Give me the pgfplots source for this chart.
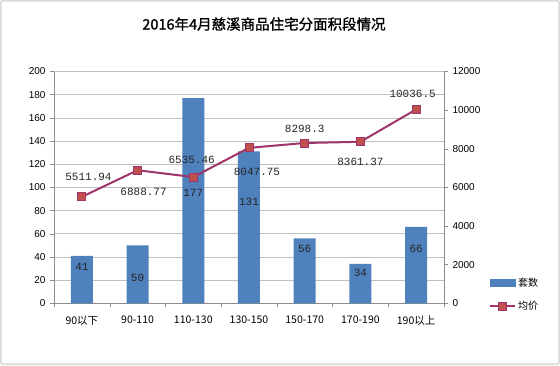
\documentclass[border=0pt]{standalone}
\usepackage{pgfplots}
\pgfplotsset{compat=1.18}
\usepackage{pgfplotstable}
\usepackage{fontspec}
\setmainfont{Liberation Sans}
\newfontfamily\cjk{Noto Sans CJK SC}
\newfontfamily\cjktitle[FakeBold=1.2]{Noto Sans CJK SC}
\newfontfamily\lblfont{Liberation Mono}
\definecolor{barblue}{HTML}{4F81BD}
\definecolor{linepurple}{HTML}{9E3469}
\definecolor{markred}{HTML}{C0504D}
\definecolor{gridgray}{HTML}{C0C0C0}
\definecolor{axisgray}{HTML}{8C8C8C}

\pgfplotsset{
  barlegend/.style={legend image code/.code={\fill[barblue] (0pt,-3.5pt) rectangle (25pt,3.5pt);}},
  linelegend/.style={legend image code/.code={%
     \draw[linepurple, line width=2pt] (0pt,0pt) -- (25pt,0pt);
     \draw[fill=markred, draw=linepurple, line width=0.8pt] (8.5pt,-4pt) rectangle (16.5pt,4pt);}},
}

% bars: x, count, label, shift of label centre below bar top
\pgfplotstableread{
x y lab dy
0 41 41 11
1 50 50 32.3
2 177 177 95
3 131 131 50.2
4 56 56 10.9
5 34 34 9.3
6 66 66 21.6
}\bars

% average price: x, value, label, label shifts
\pgfplotstableread{
x y lab dx dy
0 5511.94 5511.94 6.6 20
1 6888.77 6888.77 6 -21.7
2 6535.46 6535.46 -1.6 17
3 8047.75 8047.75 8 -24
4 8298.3 8298.3 0 14
5 8361.37 8361.37 0 -20
6 10036.5 10036.5 -3.5 16
}\price

\begin{document}
\begin{tikzpicture}[x=1pt,y=1pt]
\useasboundingbox (0,0) rectangle (560,365);
\fill[white] (0,0) rectangle (560,365);
\draw[gray!30, line width=1.6pt, rounded corners=2pt] (0.8,0.8) rectangle (559.2,364.2);
\node[font=\cjktitle\fontsize{14.5}{16}\selectfont] at (264,341) {2016年4月慈溪商品住宅分面积段情况};

\begin{axis}[
  at={(54pt,61.7pt)}, anchor=south west,
  scale only axis, width=390pt, height=231.8pt,
  xmin=-0.5, xmax=6.5, ymin=0, ymax=200,
  ytick={0,20,...,200},
  axis x line*=bottom, axis y line*=left,
  axis line style={axisgray},
  ymajorgrids, grid style={gridgray, line width=0.6pt},
  xtick={0,...,6},
  xticklabels={90以下,90-110,110-130,130-150,150-170,170-190,190以上},
  minor xtick={-0.5,0.5,...,6.5},
  tick align=outside,
  major x tick style={draw=none},
  every tick/.style={axisgray},
  minor tick length=4pt, major tick length=4pt,
  x tick label style={font=\cjk\fontsize{10.5}{12}\selectfont, yshift=-5pt},
  y tick label style={font=\fontsize{10}{12}\selectfont, xshift=-1pt},
  /pgf/number format/assume math mode=true,
  clip=false,
]
\addplot[ybar, bar width=22pt, fill=barblue, draw=none,
  nodes near coords, point meta=explicit symbolic,
  visualization depends on={\thisrow{dy} \as \labdy},
  every node near coord/.append style={anchor=center, yshift=-\labdy pt,
     font=\lblfont\fontsize{11}{12}\selectfont, text=black!85}]
  table[x=x, y=y, meta=lab] {\bars};
\end{axis}

\begin{axis}[
  at={(54pt,61.7pt)}, anchor=south west,
  scale only axis, width=390pt, height=231.8pt,
  xmin=-0.5, xmax=6.5, ymin=0, ymax=12000,
  ytick={0,2000,...,12000},
  axis y line*=right, axis x line=none,
  axis line style={axisgray},
  tick align=outside, major tick length=4pt,
  every tick/.style={axisgray},
  y tick label style={font=\fontsize{10}{12}\selectfont, xshift=1pt},
  /pgf/number format/assume math mode=true,
  /pgf/number format/1000 sep={},
  scaled y ticks=false,
  clip=false,
  legend style={at={(1.1154,0.037)}, anchor=west, draw=none, fill=none,
     inner sep=0pt, font=\cjk\fontsize{10}{12}\selectfont,
     row sep=9.5pt},
  legend cell align=left,
]
\addlegendimage{barlegend}
\addlegendentry{套数}
\addplot[linepurple, line width=2pt, mark=square*,
  mark options={fill=markred, draw=linepurple, line width=0.8pt, mark size=4pt},
  linelegend]
  table[x=x, y=y] {\price};
\addlegendentry{均价}
\addplot[draw=none, mark=none, forget plot,
  nodes near coords, point meta=explicit symbolic,
  visualization depends on={\thisrow{dx} \as \labdx},
  visualization depends on={\thisrow{dy} \as \labdy},
  every node near coord/.append style={anchor=center, xshift=\labdx pt, yshift=\labdy pt,
     font=\lblfont\fontsize{11}{12}\selectfont, text=black!85}]
  table[x=x, y=y, meta=lab] {\price};
\end{axis}
\end{tikzpicture}
\end{document}
